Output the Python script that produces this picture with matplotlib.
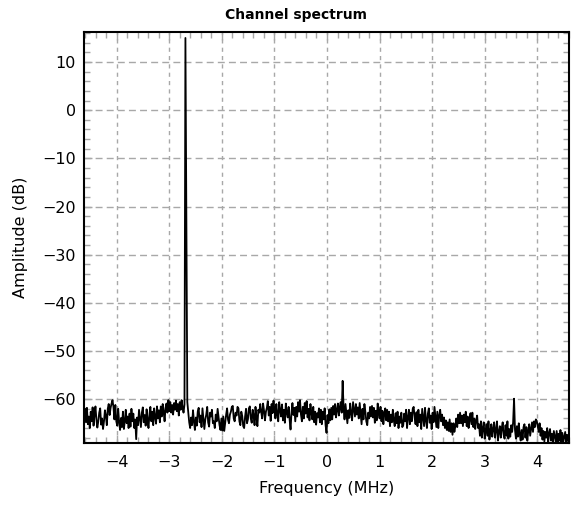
import numpy as np
import matplotlib.pyplot as plt
from matplotlib.ticker import MultipleLocator

# spectrum (dB), evenly spaced bins from -4.6 to 4.6 MHz
f_start, f_stop = -4.6, 4.6
amplitude = [
    -62.0, -64.8, -61.8, -65.2, -63.6, -66.0, -62.6, -64.6, -61.7, -65.5, -63.2, -61.5, -64.2, -65.9, -64.6, -62.8,
    -61.9, -65.3, -64.0, -66.2, -64.6, -62.3, -63.5, -65.4, -62.0, -61.0, -63.3, -61.8, -60.9, -60.2, -61.6, -64.2,
    -61.2, -64.6, -65.5, -62.0, -64.8, -66.4, -63.9, -65.8, -62.6, -66.2, -64.6, -62.2, -65.0, -63.6, -66.0, -63.0,
    -65.7, -62.0, -64.6, -63.0, -66.0, -64.2, -68.3, -63.8, -65.4, -62.2, -63.9, -65.8, -62.8, -61.7, -64.8, -63.3,
    -65.5, -62.1, -64.2, -66.0, -63.2, -61.6, -64.6, -62.6, -65.4, -61.9, -63.7, -65.1, -61.5, -64.0, -62.3, -64.8,
    -61.5, -63.6, -61.0, -62.6, -64.6, -61.8, -60.9, -62.8, -60.2, -62.5, -60.6, -62.8, -61.2, -63.2, -60.8, -62.2,
    -60.3, -62.5, -61.0, -63.4, -60.6, -62.2, -60.2, -61.7, -62.8, -61.1, 15.0, -21.2, -60.6, -62.6, -64.8, -66.0,
    -63.8, -65.4, -62.3, -64.6, -66.4, -63.8, -65.5, -62.6, -61.8, -64.8, -63.4, -65.8, -61.9, -64.0, -66.2, -64.2,
    -63.2, -61.6, -64.8, -65.7, -62.8, -63.6, -62.2, -65.0, -64.6, -66.0, -63.2, -64.6, -62.0, -63.8, -65.4, -66.4,
    -64.0, -66.5, -63.6, -66.6, -64.8, -63.2, -61.9, -64.3, -65.0, -63.2, -62.6, -61.6, -61.4, -64.0, -64.6, -62.8,
    -63.4, -61.6, -61.9, -64.6, -65.4, -62.6, -63.5, -65.6, -66.0, -63.6, -62.0, -65.0, -64.2, -61.9, -61.5, -64.0,
    -64.9, -62.2, -63.4, -65.4, -61.6, -63.9, -65.6, -62.2, -62.8, -61.0, -62.6, -64.0, -60.9, -62.4, -64.4, -62.6,
    -61.8, -60.4, -63.4, -61.6, -64.5, -61.0, -62.9, -60.3, -62.3, -64.0, -61.0, -63.2, -64.6, -60.6, -62.2, -63.6,
    -61.1, -64.4, -62.2, -64.9, -60.9, -62.8, -63.8, -61.6, -64.2, -66.3, -62.8, -60.8, -63.3, -61.8, -64.6, -61.6,
    -63.6, -60.6, -62.6, -60.2, -63.2, -64.6, -61.6, -64.0, -60.8, -63.0, -60.4, -63.8, -62.0, -64.4, -61.0, -62.9,
    -64.2, -61.6, -64.8, -62.6, -65.3, -62.9, -63.8, -61.9, -64.8, -62.2, -65.2, -62.6, -64.2, -61.9, -65.4, -67.0,
    -63.3, -65.0, -62.1, -64.4, -61.8, -64.2, -61.4, -63.2, -61.0, -63.8, -62.2, -60.9, -63.4, -61.6, -60.6, -62.8,
    -56.2, -61.8, -64.2, -61.0, -62.9, -65.0, -62.3, -63.9, -60.9, -63.0, -64.4, -60.6, -62.1, -63.6, -61.0, -63.2,
    -61.7, -64.0, -60.8, -63.0, -65.2, -62.0, -64.2, -61.0, -62.6, -64.6, -65.4, -62.8, -64.0, -61.6, -63.6, -61.4,
    -63.8, -61.8, -64.9, -62.4, -64.4, -60.9, -62.9, -64.0, -61.6, -64.6, -62.4, -65.2, -63.0, -61.9, -64.4, -62.2,
    -64.6, -62.6, -65.6, -63.2, -64.8, -62.2, -64.4, -65.6, -62.9, -65.0, -62.6, -66.0, -63.6, -64.9, -62.8, -65.8,
    -65.4, -63.0, -64.6, -62.2, -66.0, -63.8, -62.2, -65.2, -62.8, -64.6, -62.0, -61.6, -63.8, -65.2, -62.7, -65.6,
    -62.2, -64.8, -63.2, -66.2, -62.0, -63.9, -65.6, -61.8, -64.4, -66.0, -63.0, -61.9, -64.9, -63.4, -66.2, -62.8,
    -64.8, -61.6, -63.8, -65.8, -62.6, -66.0, -63.4, -62.2, -64.6, -63.2, -65.4, -63.8, -66.0, -64.4, -66.4, -64.8,
    -66.6, -64.2, -66.8, -65.0, -67.4, -65.0, -66.8, -65.6, -64.0, -65.8, -63.2, -65.0, -62.8, -65.0, -63.4, -65.6,
    -63.2, -64.8, -62.6, -65.6, -63.6, -66.0, -64.2, -62.9, -65.2, -62.8, -65.8, -64.0, -66.2, -64.4, -63.4, -66.0,
    -65.2, -67.6, -64.6, -68.0, -66.0, -64.8, -68.2, -66.4, -65.2, -67.6, -64.6, -68.4, -66.6, -65.2, -67.8, -66.2,
    -64.8, -68.0, -66.4, -64.6, -68.6, -66.8, -65.6, -68.0, -66.0, -64.8, -67.4, -68.2, -65.4, -67.6, -64.6, -68.2,
    -66.2, -67.8, -65.4, -66.8, -64.8, -59.9, -66.4, -68.2, -65.6, -67.8, -65.0, -67.2, -68.6, -66.4, -68.4, -65.8,
    -65.2, -68.0, -65.8, -68.6, -66.6, -65.2, -67.6, -66.2, -64.8, -66.8, -64.6, -65.8, -64.2, -64.5, -65.6, -66.8,
    -65.0, -67.6, -66.0, -68.4, -66.6, -68.8, -66.8, -68.0, -66.0, -68.9, -67.0, -66.2, -68.6, -67.2, -69.0, -66.6,
    -67.8, -68.9, -66.6, -69.0, -67.2, -68.6, -66.4, -69.0, -67.0, -68.9, -67.8, -66.8, -69.0, -67.4, -68.7, -67.7,
]
freq = np.linspace(f_start, f_stop, len(amplitude))

x_ticks = [-4, -3, -2, -1, 0, 1, 2, 3, 4]
y_ticks = [-60, -50, -40, -30, -20, -10, 0, 10]

plt.rcParams['font.family'] = ['DejaVu Sans']
fig = plt.figure(figsize=(5.78, 5.08), dpi=100)
ax = fig.add_axes([0.1453, 0.1289, 0.8391, 0.8087])

ax.plot(freq, amplitude, color='black', linewidth=1.3)

ax.set_xlim(-4.62, 4.60)
ax.set_ylim(-69.0, 16.3)
ax.set_xticks(x_ticks)
ax.set_yticks(y_ticks)
ax.xaxis.set_minor_locator(MultipleLocator(0.2))
ax.yaxis.set_minor_locator(MultipleLocator(2))

ax.grid(True, axis='x', color='#a8a8a8', linestyle=(0, (3, 3)), linewidth=1.0)
ax.grid(True, axis='y', color='#a8a8a8', linestyle=(0, (5, 3)), linewidth=1.0)

ax.tick_params(which='both', direction='in', top=True, right=True,
               color='#a8a8a8', labelsize=11.5)
ax.tick_params(which='major', length=6, width=1.0)
ax.tick_params(which='minor', length=4, width=1.0)
ax.tick_params(axis='x', pad=9)
ax.tick_params(axis='y', pad=6)
for s in ax.spines.values():
    s.set_linewidth(1.5)

ax.set_xlabel('Frequency (MHz)', fontsize=11.5, labelpad=8)
ax.set_ylabel('Amplitude (dB)', fontsize=11.5, labelpad=10)
fig.suptitle('Channel spectrum', x=0.512, y=0.985, fontsize=10, fontweight='bold')

fig.savefig('out.png', dpi=100)
